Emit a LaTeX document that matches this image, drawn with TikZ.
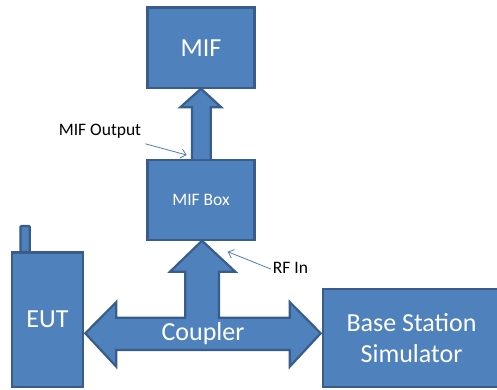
\documentclass[tikz,border=0pt]{standalone}
\usepackage{fontspec}
\setmainfont{Carlito}
\usetikzlibrary{arrows.meta}
\definecolor{boxfill}{HTML}{4F81BD}
\definecolor{boxline}{HTML}{385D8A}
\definecolor{leader}{HTML}{4A7EBB}
\tikzset{
  blockbox/.style={draw=boxline, fill=boxfill, line width=2.2pt, inner sep=0pt, outer sep=0pt, text=white, align=center},
  bigtext/.style={font=\fontsize{26}{31.7}\selectfont},
  smalltext/.style={font=\fontsize{17.5}{21}\selectfont},
  shapearrow/.style={draw=boxline, fill=boxfill, line width=2.2pt, line join=miter},
  leaderline/.style={draw=leader, line width=0.8pt, -{Straight Barb[length=5pt,width=9pt]}},
  label/.style={inner sep=0pt, text=black, font=\fontsize{17.5}{21}\selectfont}
}
\begin{document}
\begin{tikzpicture}[x=1pt,y=-1pt]
\useasboundingbox (0,0) rectangle (497,389);
% antenna
\draw[shapearrow, rounded corners=1pt] (20.5,252) rectangle (29.8,226);
% boxes
\node[blockbox, bigtext, minimum width=107pt, minimum height=80.5pt] (mif) at (201,47.7) {MIF};
\node[blockbox, smalltext, minimum width=107pt, minimum height=80pt] (mifbox) at (201,200) {MIF Box};
\node[blockbox, bigtext, minimum width=71pt, minimum height=134.5pt] (eut) at (47.5,319.7) {EUT};
\node[blockbox, bigtext, minimum width=177pt, minimum height=98pt] (bss) at (411.5,338) {Base Station\\Simulator};
% MIF output arrow
\draw[shapearrow] (192,159) -- (192,107.3) -- (180.3,107.3) -- (201,88.7) -- (221.3,107.3) -- (210.7,107.3) -- (210.7,159);
% coupler
\draw[shapearrow] (85.3,333.3) -- (116.3,302) -- (116.3,317.7) -- (185.3,317.7) -- (185.3,271.7) -- (170,271.7) -- (202,240.7) -- (235.3,271.7) -- (219,271.7) -- (219,317.7) -- (289.7,317.7) -- (289.7,302) -- (320.7,333.3) -- (289.7,366.7) -- (289.7,350) -- (116.3,350) -- (116.3,366.7) -- cycle;
\node[text=white, bigtext, inner sep=0pt] (coupler) at (203,334) {Coupler};
% labels
\node[label] (mifout) at (100,131.5) {MIF Output};
\node[label] (rfin) at (290.5,267.5) {RF In};
\coordinate (mifoutend) at (186.7,155);
\coordinate (rfinend) at (227.7,251.7);
\draw[leaderline] (mifout.south east) ++(4,5) -- (mifoutend);
\draw[leaderline] (rfin.west) ++(-2,1.5) -- (rfinend);
\end{tikzpicture}
\end{document}
